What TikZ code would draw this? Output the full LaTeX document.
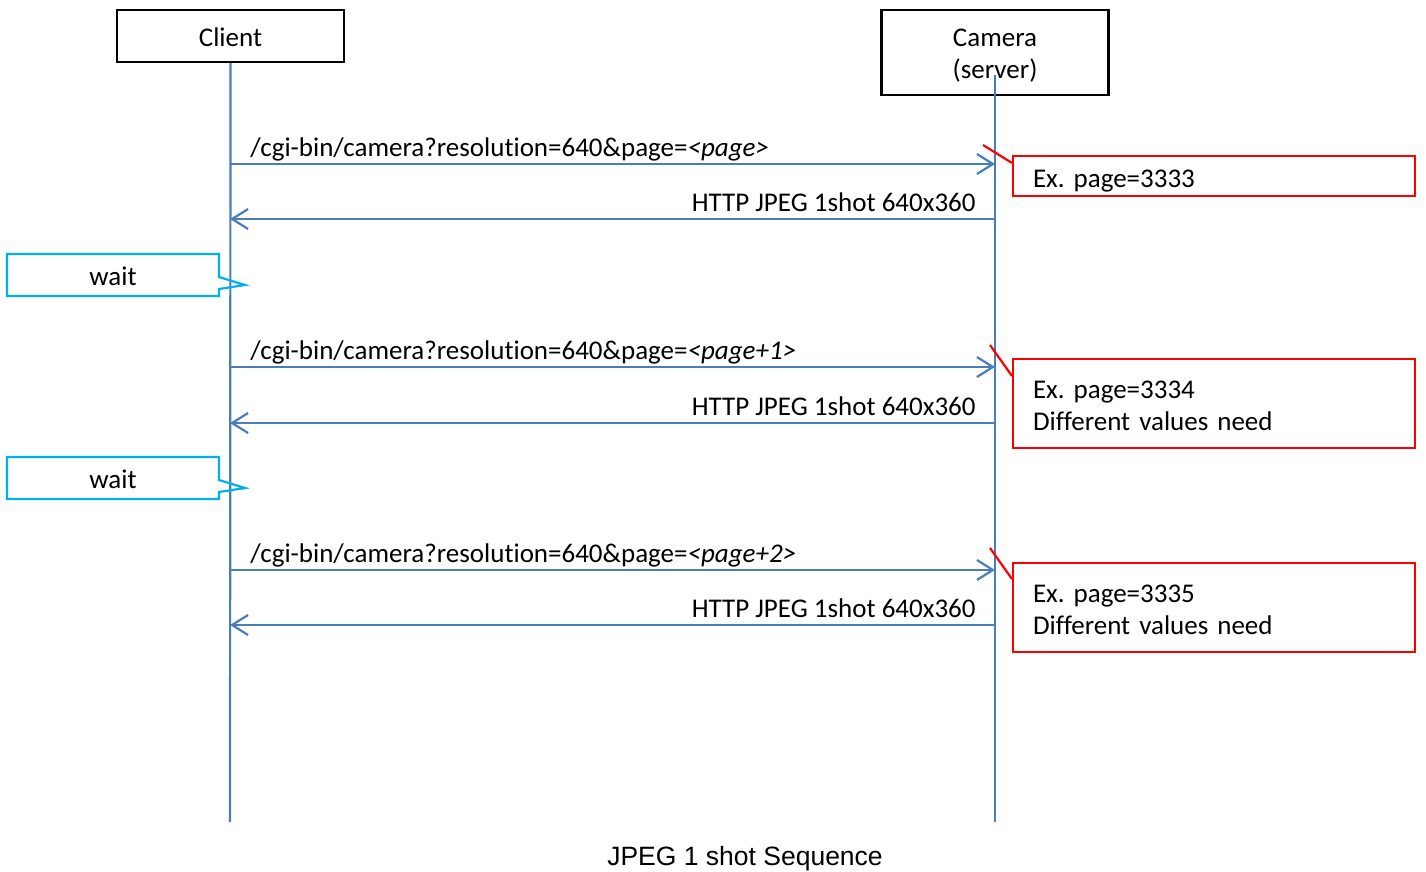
\documentclass[tikz,border=0pt]{standalone}
\usepackage{fontspec}
\setmainfont[Ligatures=NoCommon]{Carlito}
\newfontfamily\captionfont{Liberation Sans}
\usetikzlibrary{arrows.meta, positioning, shapes.callouts}
\definecolor{seqblue}{RGB}{74,126,187}
\definecolor{waitcyan}{RGB}{0,176,240}
\tikzstyle{actor} = [rectangle, draw=black, line width=2.2pt, minimum width=227pt, align=center, inner sep=0pt]
\tikzstyle{lifeline} = [draw=seqblue, line width=2.2pt]
\tikzstyle{msg} = [draw=seqblue, line width=2.2pt, -{Straight Barb[length=16pt, width=20pt]}]
\tikzstyle{waitbox} = [rectangle callout, draw=waitcyan, line width=2.2pt, minimum width=212pt, minimum height=42pt, inner sep=0pt, callout pointer width=12pt, text height=20.5pt, text depth=0pt]
\tikzstyle{note} = [rectangle, draw=red, line width=2.2pt, minimum width=402pt, text width=362pt, inner xsep=20pt, inner ysep=0pt, align=left]
\tikzstyle{noteline} = [draw=red, line width=2.2pt]

\begin{document}
\frenchspacing
\begin{tikzpicture}[x=1pt, y=-1pt, font=\fontsize{27}{32}\selectfont]
  \useasboundingbox (0,0) rectangle (1426,872);
  % Teilnehmer
  \node (client) [actor, minimum height=52pt, text height=22pt, text depth=0pt] at (230.5,36) {Client};
  \node (camera) [actor, minimum height=85pt, text height=53pt, text depth=0pt] at (995,52.5) {Camera\\(server)};
  % Lebenslinien
  \coordinate (camtop) at (995,75);
  \coordinate (clientend) at (230,822);
  \coordinate (camend) at (995,822);
  \draw [lifeline] (client.south) -- (clientend);
  \draw [lifeline] (camtop) -- (camend);
  % Punkte auf den Lebenslinien
  \coordinate (c1) at (230,164);  \coordinate (s1) at (995,164);
  \coordinate (c2) at (230,219);  \coordinate (s2) at (995,219);
  \coordinate (c3) at (230,367);  \coordinate (s3) at (995,367);
  \coordinate (c4) at (230,423);  \coordinate (s4) at (995,423);
  \coordinate (c5) at (230,570);  \coordinate (s5) at (995,570);
  \coordinate (c6) at (230,625);  \coordinate (s6) at (995,625);
  % Anfragen und Antworten
  \draw [msg] (c1) -- (s1) node [pos=0, anchor=base west, xshift=16pt, yshift=8pt] {/cgi-bin/camera?resolution=640\&page=\textit{<page>}};
  \draw [msg] (s2) -- (c2) node [pos=0, anchor=base east, xshift=-15pt, yshift=8pt] {HTTP JPEG 1shot 640x360};
  \draw [msg] (c3) -- (s3) node [pos=0, anchor=base west, xshift=16pt, yshift=8pt] {/cgi-bin/camera?resolution=640\&page=\textit{<page+1>}};
  \draw [msg] (s4) -- (c4) node [pos=0, anchor=base east, xshift=-15pt, yshift=8pt] {HTTP JPEG 1shot 640x360};
  \draw [msg] (c5) -- (s5) node [pos=0, anchor=base west, xshift=16pt, yshift=8pt] {/cgi-bin/camera?resolution=640\&page=\textit{<page+2>}};
  \draw [msg] (s6) -- (c6) node [pos=0, anchor=base east, xshift=-15pt, yshift=8pt] {HTTP JPEG 1shot 640x360};
  % Warten
  \node (wait1) [waitbox, callout absolute pointer={(245,285)}] at (113,275) {wait};
  \node (wait2) [waitbox, callout absolute pointer={(245,488)}] at (113,478) {wait};
  % Hinweise
  \node (note1) [note, minimum height=40pt, text height=22pt, text depth=0pt] at (1214,176) {Ex. page=3333};
  \node (note2) [note, minimum height=89pt, text height=20pt, text depth=30pt] at (1214,403.5) {Ex. page=3334\\Different values need};
  \node (note3) [note, minimum height=89pt, text height=20pt, text depth=30pt] at (1214,607.5) {Ex. page=3335\\Different values need};
  \coordinate (mark1) at (983,145);
  \coordinate (mark2) at (990,345);
  \coordinate (mark3) at (990,548);
  \draw [noteline] (mark1) -- ([yshift=-8pt]note1.north west);
  \draw [noteline] (mark2) -- ([yshift=-18pt]note2.north west);
  \draw [noteline] (mark3) -- ([yshift=-17pt]note3.north west);
  % Titel
  \node (title) at (745,859) {\captionfont\fontsize{26.5}{30}\selectfont JPEG 1 shot Sequence};
\end{tikzpicture}
\end{document}
